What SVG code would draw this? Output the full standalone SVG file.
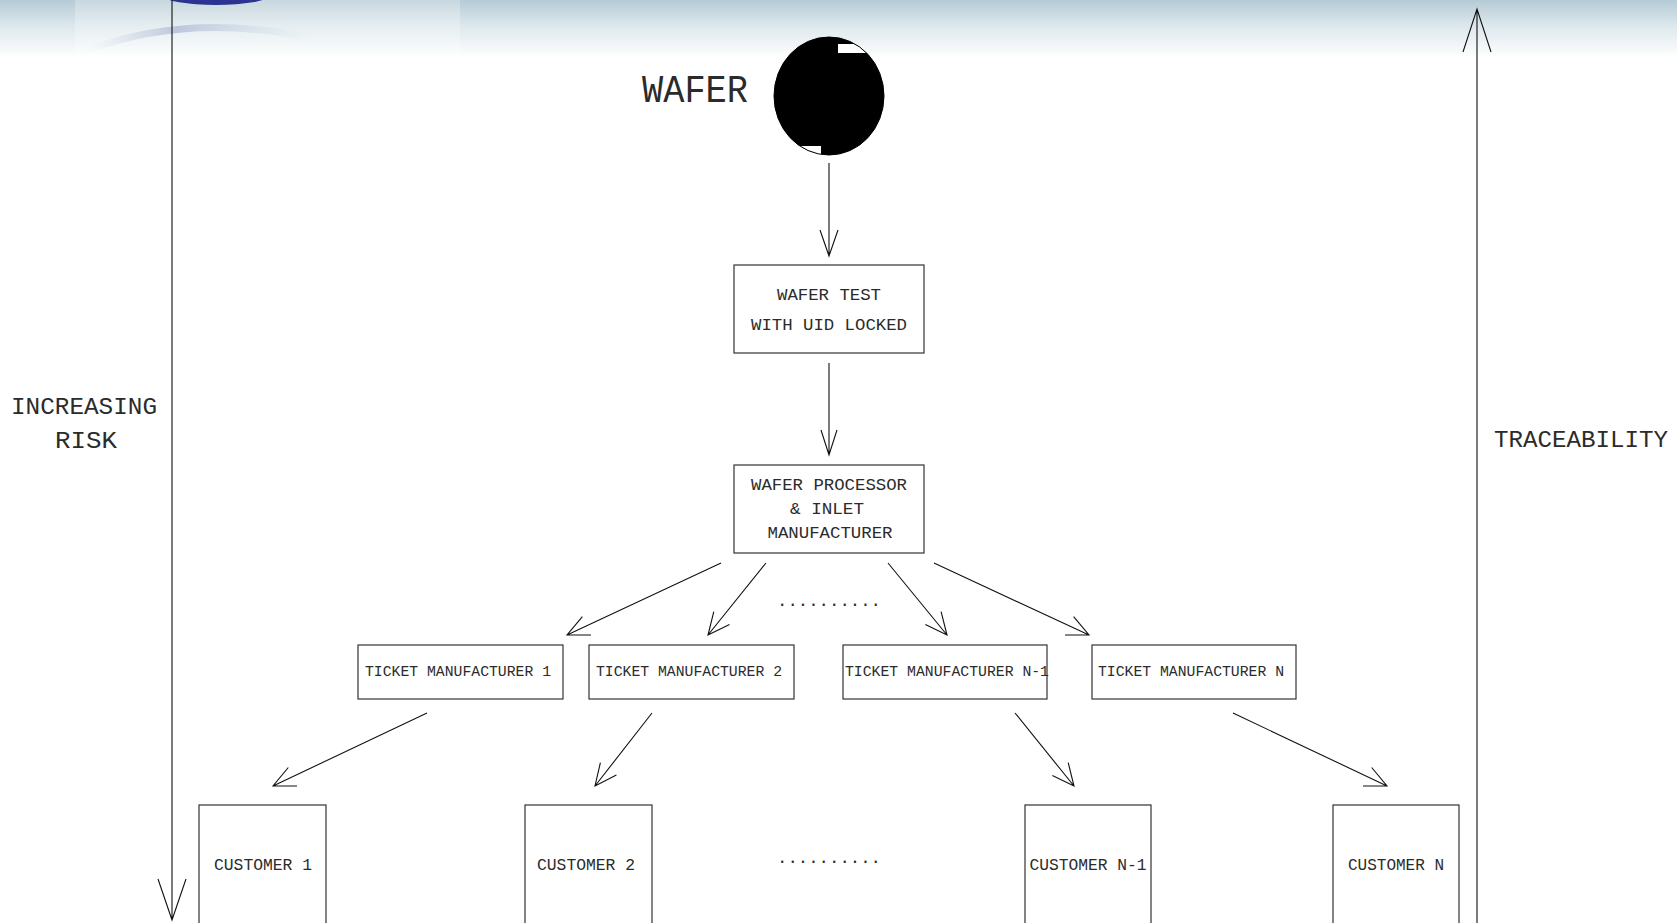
<svg xmlns="http://www.w3.org/2000/svg" width="1677" height="923" viewBox="0 0 1677 923">
<defs>
<linearGradient id="hdr" x1="0" y1="0" x2="0" y2="1">
<stop offset="0" stop-color="#b5cbd5"/>
<stop offset="0.45" stop-color="#dde8ed"/>
<stop offset="1" stop-color="#ffffff"/>
</linearGradient>
<linearGradient id="arc" x1="0" y1="0" x2="1" y2="0">
<stop offset="0" stop-color="#c9d3e3" stop-opacity="0"/>
<stop offset="0.4" stop-color="#aab6d2" stop-opacity="0.7"/>
<stop offset="1" stop-color="#c9d3e3" stop-opacity="0"/>
</linearGradient>
<clipPath id="waferClip"><ellipse cx="829" cy="96" rx="55" ry="59"/></clipPath>
<style>
.box{fill:#fff;stroke:#333;stroke-width:1.2}
.ln{fill:none;stroke:#111;stroke-width:1.1}
.t{font-family:"Liberation Mono","DejaVu Sans Mono",monospace;fill:#2b2b2b}
.bt{font-size:16px}
.tm{font-size:14.5px}
.cu{font-size:16px}
.side{font-size:23px}
</style>
</defs>
<rect width="1677" height="923" fill="#fff"/>
<rect x="0" y="0" width="1677" height="58" fill="url(#hdr)"/>
<g id="logo-bg">
<rect x="75" y="0" width="385" height="70" fill="#ffffff" opacity="0.25"/>
<ellipse cx="216" cy="-4" rx="52" ry="9" fill="#2b3490"/>
<path d="M 88 50 Q 190 12 310 38" fill="none" stroke="url(#arc)" stroke-width="7"/>
</g>

<g id="wafer">
<text class="t" x="642" y="102" font-size="39" textLength="106" lengthAdjust="spacingAndGlyphs">WAFER</text>
<ellipse cx="829" cy="96" rx="55" ry="59" fill="#000"/>
<g clip-path="url(#waferClip)" fill="#fff">
<rect x="838" y="44" width="40" height="9"/>
<rect x="790" y="146" width="31" height="12"/>
</g>
<ellipse cx="829" cy="96" rx="55" ry="59" fill="none" stroke="#000" stroke-width="1"/>
</g>

<g id="wafer-test">
<rect class="box" x="734" y="265" width="190" height="88"/>
<text class="t bt" x="829" y="300" text-anchor="middle" textLength="104" lengthAdjust="spacingAndGlyphs">WAFER TEST</text>
<text class="t bt" x="829" y="330" text-anchor="middle" textLength="156" lengthAdjust="spacingAndGlyphs">WITH UID LOCKED</text>
</g>

<g id="wafer-processor">
<rect class="box" x="734" y="465" width="190" height="88"/>
<text class="t bt" x="829" y="490" text-anchor="middle" textLength="156" lengthAdjust="spacingAndGlyphs">WAFER PROCESSOR</text>
<text class="t bt" x="827" y="514" text-anchor="middle" textLength="74" lengthAdjust="spacingAndGlyphs">&amp; INLET</text>
<text class="t bt" x="830" y="538" text-anchor="middle" textLength="125" lengthAdjust="spacingAndGlyphs">MANUFACTURER</text>
</g>

<g id="ticket-1">
<rect class="box" x="358" y="645" width="205" height="54"/>
<text class="t tm" x="458" y="676" text-anchor="middle" textLength="186" lengthAdjust="spacingAndGlyphs">TICKET MANUFACTURER 1</text>
</g>
<g id="ticket-2">
<rect class="box" x="589" y="645" width="205" height="54"/>
<text class="t tm" x="689" y="676" text-anchor="middle" textLength="186" lengthAdjust="spacingAndGlyphs">TICKET MANUFACTURER 2</text>
</g>
<g id="ticket-n-1">
<rect class="box" x="843" y="645" width="204" height="54"/>
<text class="t tm" x="947" y="676" text-anchor="middle" textLength="204" lengthAdjust="spacingAndGlyphs">TICKET MANUFACTURER N-1</text>
</g>
<g id="ticket-n">
<rect class="box" x="1092" y="645" width="204" height="54"/>
<text class="t tm" x="1191" y="676" text-anchor="middle" textLength="186" lengthAdjust="spacingAndGlyphs">TICKET MANUFACTURER N</text>
</g>

<g id="customer-1">
<rect class="box" x="199" y="805" width="127" height="130"/>
<text class="t cu" x="263" y="870" text-anchor="middle" textLength="98" lengthAdjust="spacingAndGlyphs">CUSTOMER 1</text>
</g>
<g id="customer-2">
<rect class="box" x="525" y="805" width="127" height="130"/>
<text class="t cu" x="586" y="870" text-anchor="middle" textLength="98" lengthAdjust="spacingAndGlyphs">CUSTOMER 2</text>
</g>
<g id="customer-n-1">
<rect class="box" x="1025" y="805" width="126" height="130"/>
<text class="t cu" x="1088" y="870" text-anchor="middle" textLength="117" lengthAdjust="spacingAndGlyphs">CUSTOMER N-1</text>
</g>
<g id="customer-n">
<rect class="box" x="1333" y="805" width="126" height="130"/>
<text class="t cu" x="1396" y="870" text-anchor="middle" textLength="96" lengthAdjust="spacingAndGlyphs">CUSTOMER N</text>
</g>

<g id="labels">
<text class="t side" x="84" y="414" text-anchor="middle" textLength="146" lengthAdjust="spacingAndGlyphs">INCREASING</text>
<text class="t side" x="86" y="448" text-anchor="middle" textLength="62" lengthAdjust="spacingAndGlyphs">RISK</text>
<text class="t side" x="1581" y="447" text-anchor="middle" textLength="174" lengthAdjust="spacingAndGlyphs">TRACEABILITY</text>
<text class="t" x="829" y="606" font-size="16" text-anchor="middle" textLength="104" lengthAdjust="spacingAndGlyphs">..........</text>
<text class="t" x="829" y="863" font-size="16" text-anchor="middle" textLength="104" lengthAdjust="spacingAndGlyphs">..........</text>
</g>

<g id="connectors" class="ln">
<path d="M172 0 V920 M158 879 L172 920 L186 879"/>
<path d="M1477 923 V9 M1463 52 L1477 9 L1491 52"/>
<path d="M829 163 V256 M820 230 L829 256 L838 230"/>
<path d="M829 363 V455 M821 430 L829 455 L837 430"/>
<path d="M721 563 L567 635 M582.4 616.6 L567 635 L591 635"/>
<path d="M766 563 L708 635 M713.8 611.7 L708 635 L729.5 624.4"/>
<path d="M888 563 L947 635 M941.1 611.7 L947 635 L925.4 624.6"/>
<path d="M934 563 L1089 635 M1073.6 616.6 L1089 635 L1065 635"/>
<path d="M427 713 L273 786 M288.3 767.5 L273 786 L297 786"/>
<path d="M652 713 L595 786 M600.4 762.6 L595 786 L616.4 775.1"/>
<path d="M1015 713 L1074 786 M1068.2 762.7 L1074 786 L1052.4 775.5"/>
<path d="M1233 713 L1387 786 M1371.7 767.5 L1387 786 L1363 786"/>
</g>
</svg>
